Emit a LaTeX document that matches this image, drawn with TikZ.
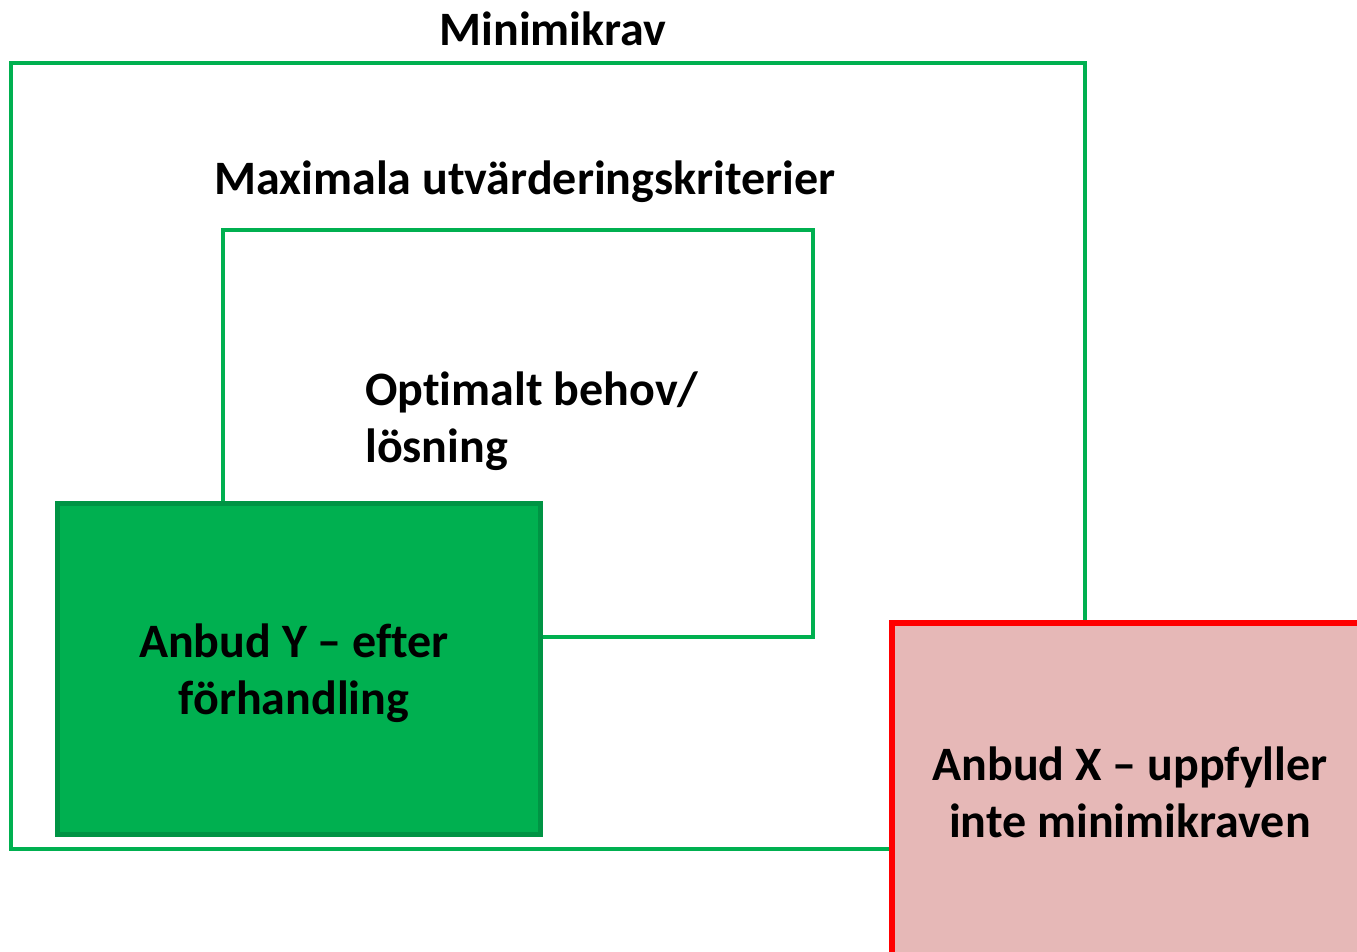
\documentclass[tikz,border=0pt]{standalone}
\usepackage{fontspec}
\setmainfont{Carlito}[Ligatures={NoCommon}]
\definecolor{grn}{RGB}{0,176,80}
\definecolor{dgrn}{RGB}{0,148,68}
\definecolor{pinkf}{RGB}{230,184,183}
\definecolor{redb}{RGB}{255,0,0}
\tikzset{
  lbl/.style={font=\fontsize{48}{57}\selectfont\bfseries, inner sep=0pt, align=center},
  frame/.style={draw=grn, line width=4pt, rectangle, inner sep=0pt},
}
\begin{document}
\begin{tikzpicture}[x=1pt,y=-1pt]
\useasboundingbox (0,0) rectangle (1357,952);
\clip (0,0) rectangle (1357,952);
\fill[white] (0,0) rectangle (1357,952);
\node[frame, minimum width=1074pt, minimum height=786pt] (outer) at (548,456) {};
\node[frame, minimum width=590pt, minimum height=407pt] (inner) at (518,433.5) {};
\node[lbl] (t1) at (553,29) {Minimikrav};
\node[lbl] (t2) at (525,182) {Maximala utvärderingskriterier};
\node[lbl, align=left, anchor=west] (t3) at (365,421) {Optimalt behov/\\lösning};
\node[rectangle, fill=grn, draw=dgrn, line width=5pt, minimum width=483pt, minimum height=331pt] (ybox) at (298.5,668.5) {};
\node[lbl] (ytext) at (294,673) {Anbud Y – efter\\förhandling};
\node[rectangle, fill=pinkf, draw=redb, line width=6pt, minimum width=520pt, minimum height=400pt, anchor=north west] (xbox) at (889,620) {};
\node[lbl] (xtext) at (1130,792) {Anbud X – uppfyller\\inte minimikraven};
\end{tikzpicture}
\end{document}
